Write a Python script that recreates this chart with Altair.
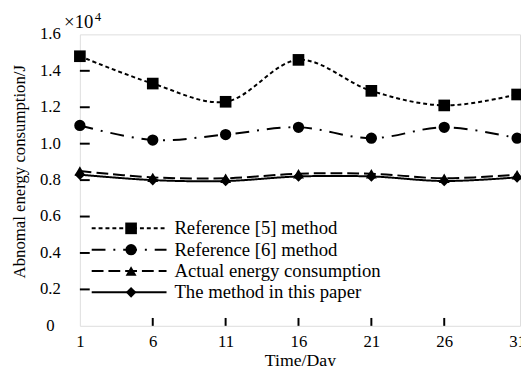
import altair as alt
import pandas as pd

days = [1, 6, 11, 16, 21, 26, 31]
series = ["Reference [5] method", "\u00a0Reference [6] method",
          "Actual energy consumption", "The method in this paper"]
ref5 = [1.48, 1.33, 1.23, 1.46, 1.29, 1.21, 1.27]
ref6 = [1.10, 1.02, 1.05, 1.09, 1.03, 1.09, 1.03]
actual = [0.85, 0.815, 0.81, 0.835, 0.835, 0.81, 0.83]
method = [0.83, 0.80, 0.795, 0.82, 0.82, 0.795, 0.815]
y_ticks = [0, 0.2, 0.4, 0.6, 0.8, 1.0, 1.2, 1.4, 1.6]
y_labels = ["0", "0.2", "0.4", "0.6", "0.8", "1.0", "1.2", "1.4", "1.6"]
x_ticks = [1, 6, 11, 16, 21, 26, 31]
x_inner_ticks = [6, 11, 16, 21, 26]
y_inner_ticks = [0.2, 0.4, 0.6, 0.8, 1.0, 1.2, 1.4]
unit_main = ["×10"]
unit_exp = ["4"]

rows = []
for name, vals in zip(series, [ref5, ref6, actual, method]):
    for d, v in zip(days, vals):
        rows.append({"day": d, "value": v, "series": name})
df = pd.DataFrame(rows)
leg = pd.DataFrame({"series": series, "row": list(range(len(series)))})

FONT = "Liberation Serif"
dash_scale = alt.Scale(domain=series, range=[[4, 3], [14, 8, 2, 8], [12, 5], [1, 0]])
shape_scale = alt.Scale(domain=series, range=["square", "circle", "triangle-up", "diamond"])
size_scale = alt.Scale(domain=series, range=[140, 115, 140, 160])

xs = alt.Scale(domain=[1, 31.2], nice=False, zero=False)
ys = alt.Scale(domain=[0, 1.6], nice=False)

x_enc = alt.X("day:Q", scale=xs, axis=alt.Axis(
    values=x_ticks, title="Time/Day", domain=False, ticks=False, tickSize=0, grid=False,
    labelFont=FONT, labelFontSize=17, labelColor="black", labelPadding=8,
    labelOverlap=False, labelFlush=False,
    titleFont=FONT, titleFontSize=18, titleFontWeight="normal", titleColor="black",
    titlePadding=2))
y_enc = alt.Y("value:Q", scale=ys, axis=alt.Axis(
    values=y_ticks, title="Abnomal energy consumption/J", domain=False, ticks=False,
    tickSize=0, grid=False, labels=False,
    titleFont=FONT, titleFontSize=17, titleFontWeight="normal", titleColor="black",
    titleX=-52, titleY=139))

base = alt.Chart(df)
lines = base.mark_line(interpolate="catmull-rom", strokeWidth=2, color="black").encode(
    x=x_enc, y=y_enc,
    strokeDash=alt.StrokeDash("series:N", scale=dash_scale, legend=None),
    detail="series:N")
points = base.mark_point(filled=True, opacity=1, color="black").encode(
    x=alt.X("day:Q", scale=xs), y=alt.Y("value:Q", scale=ys),
    shape=alt.Shape("series:N", scale=shape_scale, legend=None),
    size=alt.Size("series:N", scale=size_scale, legend=None))

xt = alt.Chart(pd.DataFrame({"t": x_inner_ticks})).mark_rule(color="black", strokeWidth=2).encode(
    x=alt.X("t:Q", scale=xs), y=alt.value(296), y2=alt.value(288))
yt = alt.Chart(pd.DataFrame({"t": y_inner_ticks})).mark_rule(color="black", strokeWidth=2).encode(
    y=alt.Y("t:Q", scale=ys), x=alt.value(0), x2=alt.value(10))
ylab = alt.Chart(pd.DataFrame({"t": y_ticks, "lab": y_labels})).mark_text(
    font=FONT, fontSize=17, align="center", baseline="middle", color="black").encode(
    y=alt.Y("t:Q", scale=ys), x=alt.value(-30), text="lab:N")

unit1 = alt.Chart(pd.DataFrame({"t": unit_main})).mark_text(
    font=FONT, fontSize=19, align="left", baseline="alphabetic", color="black").encode(
    text="t:N", x=alt.value(-16), y=alt.value(-6))
unit2 = alt.Chart(pd.DataFrame({"t": unit_exp})).mark_text(
    font=FONT, fontSize=13, align="left", baseline="alphabetic", color="black").encode(
    text="t:N", x=alt.value(15), y=alt.value(-14))

main = alt.layer(lines, points, xt, yt, ylab, unit1, unit2)

ly = alt.Y("row:Q", scale=alt.Scale(domain=[0, 3], range=[197, 262], nice=False, zero=False),
           axis=None)
lrule = alt.Chart(leg).mark_rule(strokeWidth=2, color="black").encode(
    y=ly, x=alt.value(12), x2=alt.value(88),
    strokeDash=alt.StrokeDash("series:N", scale=dash_scale, legend=None))
lpts = alt.Chart(leg).mark_point(filled=True, opacity=1, color="black").encode(
    y=ly, x=alt.value(52),
    shape=alt.Shape("series:N", scale=shape_scale, legend=None),
    size=alt.Size("series:N", scale=size_scale, legend=None))
ltxt = alt.Chart(leg).mark_text(font=FONT, fontSize=19, align="left", baseline="middle",
                                color="black").encode(
    y=ly, x=alt.value(96), text="series:N")
legend = alt.layer(lrule, lpts, ltxt)

chart = alt.layer(main, legend).resolve_scale(y="independent").properties(
    width=447, height=296,
    autosize=alt.AutoSizeParams(type="none"),
    padding={"left": 73, "top": 24, "right": 1, "bottom": 38},
).configure_view(stroke="black", strokeWidth=2).configure_axis(
    labelFont=FONT, titleFont=FONT
).configure(background="white")

chart.save("out.html", embed_options={"renderer": "svg", "actions": False})
